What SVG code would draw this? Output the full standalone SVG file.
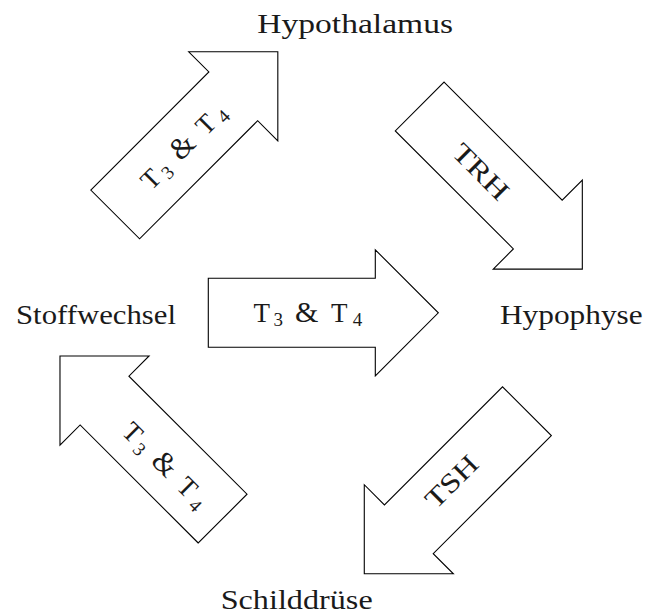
<svg xmlns="http://www.w3.org/2000/svg" xmlns:xlink="http://www.w3.org/1999/xlink" width="648" height="614" viewBox="0 0 648 614">
  <style>
    .bg { fill: #ffffff; }
    .arrow { fill: #ffffff; stroke: #000000; stroke-width: 1.1; stroke-linejoin: miter; }
    .node { font-family: "Liberation Serif", "Times New Roman", serif; font-size: 27px; fill: #1a1a1a; }
    .lbl { font-family: "Liberation Serif", "Times New Roman", serif; font-size: 27px; fill: #1a1a1a; text-anchor: middle; }
    .sub { font-size: 19px; }
    .amp { font-size: 30px; }
  </style>
  <defs>
    <path id="arrowShape" d="M -115,-34.5 L 52,-34.5 L 52,-63 L 115,0 L 52,63 L 52,34.5 L -115,34.5 Z"/>
  </defs>
  <rect class="bg" x="0" y="0" width="648" height="614"/>

  <g id="connectors">
    <g id="arrow-stoffwechsel-hypothalamus">
      <use href="#arrowShape" xlink:href="#arrowShape" class="arrow" transform="translate(196.5,133.1) rotate(-45)"/>
      <text class="lbl" transform="translate(183.3,146.7) rotate(-45)" y="8.85"><tspan x="-45.8">T</tspan><tspan x="-29.2" dy="4.5" class="sub">3</tspan><tspan x="-0.8" dy="-4.5" class="amp">&amp;</tspan><tspan x="31.7">T</tspan><tspan x="50" dy="4.5" class="sub">4</tspan></text>
    </g>
    <g id="arrow-hypothalamus-hypophyse">
      <use href="#arrowShape" xlink:href="#arrowShape" class="arrow" transform="translate(501,187.8) rotate(45)"/>
      <text class="lbl" transform="translate(480.7,171.7) rotate(45)" x="0" y="8.85" textLength="68" lengthAdjust="spacingAndGlyphs">TRH</text>
    </g>
    <g id="arrow-stoffwechsel-hypophyse">
      <use href="#arrowShape" xlink:href="#arrowShape" class="arrow" transform="translate(323.3,312.8)"/>
      <text class="lbl" x="307.5" y="321.7"><tspan x="261.7">T</tspan><tspan x="278.3" dy="4.5" class="sub">3</tspan><tspan x="306.7" dy="-4.5" class="amp">&amp;</tspan><tspan x="339.2">T</tspan><tspan x="357.5" dy="4.5" class="sub">4</tspan></text>
    </g>
    <g id="arrow-hypophyse-schilddruese">
      <use href="#arrowShape" xlink:href="#arrowShape" class="arrow" transform="translate(445.6,492.5) rotate(135)"/>
      <text class="lbl" transform="translate(451.7,481.7) rotate(-45)" x="0" y="8.85" textLength="63" lengthAdjust="spacingAndGlyphs">TSH</text>
    </g>
    <g id="arrow-schilddruese-stoffwechsel">
      <use href="#arrowShape" xlink:href="#arrowShape" class="arrow" transform="translate(141.3,437.3) rotate(-135)"/>
      <text class="lbl" transform="translate(165,465) rotate(45)" y="8.85"><tspan x="-45.8">T</tspan><tspan x="-29.2" dy="4.5" class="sub">3</tspan><tspan x="-0.8" dy="-4.5" class="amp">&amp;</tspan><tspan x="31.7">T</tspan><tspan x="50" dy="4.5" class="sub">4</tspan></text>
    </g>
  </g>

  <g id="node-hypothalamus">
    <text class="node" x="257.3" y="33.3" textLength="195.7" lengthAdjust="spacingAndGlyphs">Hypothalamus</text>
  </g>
  <g id="node-stoffwechsel">
    <text class="node" x="16" y="324.3" textLength="160" lengthAdjust="spacingAndGlyphs">Stoffwechsel</text>
  </g>
  <g id="node-hypophyse">
    <text class="node" x="500" y="324.3" textLength="142.7" lengthAdjust="spacingAndGlyphs">Hypophyse</text>
  </g>
  <g id="node-schilddruese">
    <text class="node" x="220.7" y="608.5" textLength="152" lengthAdjust="spacingAndGlyphs">Schilddrüse</text>
  </g>
</svg>
